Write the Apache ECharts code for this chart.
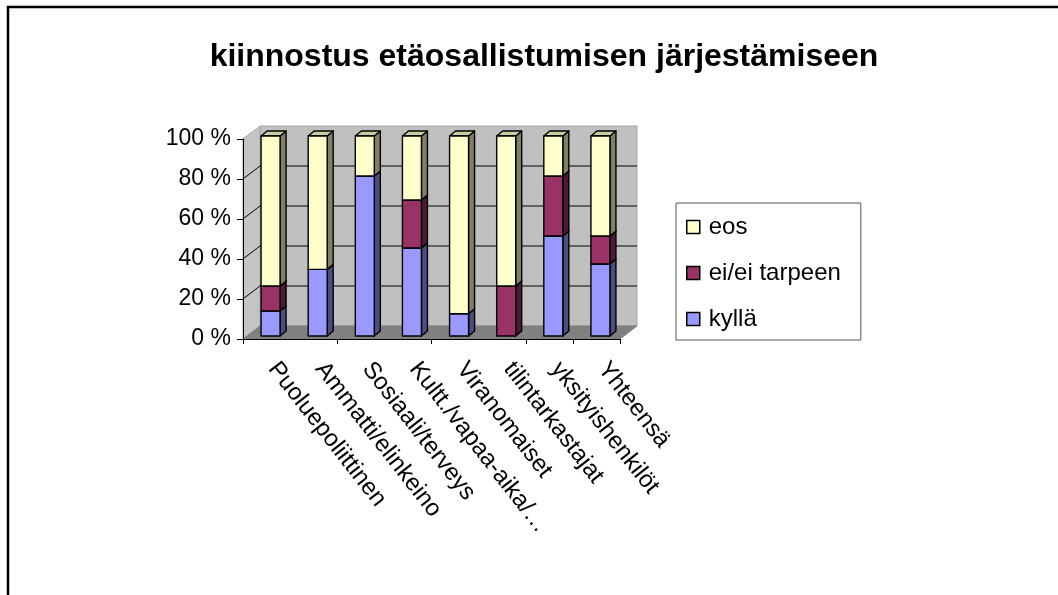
<!DOCTYPE html>
<html><head><meta charset="utf-8">
<script src="https://cdn.jsdelivr.net/npm/echarts@6/dist/echarts.min.js"></script>
<style>html,body{margin:0;padding:0;background:#fff}#c{width:1058px;height:595px}</style>
</head><body><div id="c"></div>
<script>
const categories = ['Puoluepoliittinen','Ammatti/elinkeino','Sosiaali/terveys','Kultt./vapaa-aika/…','Viranomaiset','tilintarkastajat','yksityishenkilöt','Yhteensä'];
const kylla = [12.5, 33.3, 80, 44, 11.1, 0, 50, 36];
const eiTarpeen = [12.5, 0, 0, 24, 0, 25, 30, 14];
const eos = [75, 66.7, 20, 32, 88.9, 75, 20, 50];
const yTicks = [0, 20, 40, 60, 80, 100];
const seriesNames = ['kyllä', 'ei/ei tarpeen', 'eos'];

const FONT = "'Liberation Sans', Arial, sans-serif";
const DX = 17, DY = -13;          // wall depth
const BX = 4, BY = -3, BW = 19, BDX = 6, BDY = -5; // bar 3D params

const shades = [
  {front:'#9999FF', top:'#7A7ACC', side:'#4D4D80'},
  {front:'#993366', top:'#7A2952', side:'#4D1A33'},
  {front:'#FFFFCC', top:'#CCCCA3', side:'#808066'}
];

// build stacked [cat, base, top]
const raw = [kylla, eiTarpeen, eos];
const stacked = raw.map(() => []);
categories.forEach((c, i) => {
  let acc = 0;
  raw.forEach((arr, s) => {
    stacked[s].push([i, acc, acc + arr[i]]);
    acc += arr[i];
  });
});

function barRender(sIdx) {
  const sh = shades[sIdx];
  return function (params, api) {
    const cat = api.value(0), b = api.value(1), t = api.value(2);
    if (t - b <= 0.0001) return null;
    const p0 = api.coord([cat, b]);
    const p1 = api.coord([cat, t]);
    const xl = p0[0] - BW / 2 + BX, xr = xl + BW;
    const yb = p0[1] + BY, yt = p1[1] + BY;
    const st = {stroke:'#000', lineWidth:1.4, lineJoin:'round'};
    return {type:'group', children:[
      {type:'polygon', shape:{points:[[xr,yt],[xr+BDX,yt+BDY],[xr+BDX,yb+BDY],[xr,yb]]}, style:Object.assign({fill:sh.side}, st)},
      {type:'polygon', shape:{points:[[xl,yt],[xl+BDX,yt+BDY],[xr+BDX,yt+BDY],[xr,yt]]}, style:Object.assign({fill:sh.top}, st)},
      {type:'rect', shape:{x:xl, y:yt, width:BW, height:yb-yt}, style:Object.assign({fill:sh.front}, st)}
    ]};
  };
}

function wallRender(params, api) {
  const r = params.coordSys;
  const x = r.x, y = r.y, w = r.width, h = r.height;
  const ch = [];
  ch.push({type:'rect', shape:{x:x+DX, y:y+DY, width:w, height:h}, style:{fill:'#C0C0C0', stroke:'#A8A8A8', lineWidth:1}});
  ch.push({type:'polygon', shape:{points:[[x,y],[x+DX,y+DY],[x+DX,y+h+DY],[x,y+h]]}, style:{fill:'#C4C4C4', stroke:'#A8A8A8', lineWidth:1}});
  ch.push({type:'polygon', shape:{points:[[x,y+h],[x+DX,y+h+DY],[x+w+DX,y+h+DY],[x+w,y+h]]}, style:{fill:'#808080', stroke:'#808080', lineWidth:1}});
  yTicks.forEach(v => {
    if (v === 0 || v === 100) return;
    const yy = api.coord([0, v])[1];
    ch.push({type:'line', shape:{x1:x+DX, y1:yy+DY, x2:x+w+DX, y2:yy+DY}, style:{stroke:'#000', lineWidth:1}});
    ch.push({type:'line', shape:{x1:x, y1:yy, x2:x+DX, y2:yy+DY}, style:{stroke:'#000', lineWidth:1}});
  });
  return {type:'group', children:ch};
}

const chart = echarts.init(document.getElementById('c'), null, {renderer:'canvas'});
const series = [{
  type:'custom', name:'_walls', silent:true, z:1,
  renderItem: wallRender, data:[[0, 0]], encode:{x:0, y:1}
}];
seriesNames.forEach((n, s) => {
  series.push({
    type:'custom', name:n, z:2, silent:true,
    itemStyle:{color:shades[s].front, borderColor:'#000', borderWidth:1.5},
    dimensions:['cat','base','top'],
    encode:{x:0, y:[1,2]},
    renderItem: barRender(s),
    data: stacked[s]
  });
});

chart.setOption({
  animation:false,
  backgroundColor:'#fff',
  textStyle:{fontFamily:FONT, color:'#000'},
  title:{
    text:'kiinnostus etäosallistumisen järjestämiseen',
    left:539, top:36, textAlign:'center',
    textStyle:{fontFamily:FONT, fontWeight:'bold', fontSize:32, color:'#000'}
  },
  legend:{
    orient:'vertical', left:676, top:203,
    data:['eos','ei/ei tarpeen','kyllä'],
    icon:'rect', itemWidth:13, itemHeight:13, itemGap:22,
    padding:[12, 20, 9, 10],
    borderColor:'#555', borderWidth:1,
    selectedMode:false,
    itemStyle:{borderColor:'#000', borderWidth:1.5},
    textStyle:{fontFamily:FONT, fontSize:24, color:'#000', lineHeight:22, padding:[0,0,0,4]}
  },
  grid:{left:243, top:139, width:377, height:200, containLabel:false},
  xAxis:{
    type:'category', data:categories, boundaryGap:true, z:5,
    axisLine:{show:true, lineStyle:{color:'#000', width:1}},
    axisTick:{show:true, interval:1, length:5, lineStyle:{color:'#000'}},
    axisLabel:{rotate:-52, interval:0, fontSize:24, color:'#000', fontFamily:FONT, margin:18, padding:[0,0,0,10]},
    splitLine:{show:false}
  },
  yAxis:{
    type:'value', min:0, max:100, interval:20, z:5,
    axisLine:{show:true, lineStyle:{color:'#000', width:1}},
    axisTick:{show:true, length:6, lineStyle:{color:'#000'}},
    axisLabel:{formatter:'{value} %', fontSize:23, color:'#000', fontFamily:FONT, margin:12},
    splitLine:{show:false}
  },
  graphic:[{
    type:'rect', silent:true, z:100,
    shape:{x:8, y:7, width:1100, height:700},
    style:{fill:null, stroke:'#000', lineWidth:2.5}
  }],
  series: series
});
</script></body></html>
